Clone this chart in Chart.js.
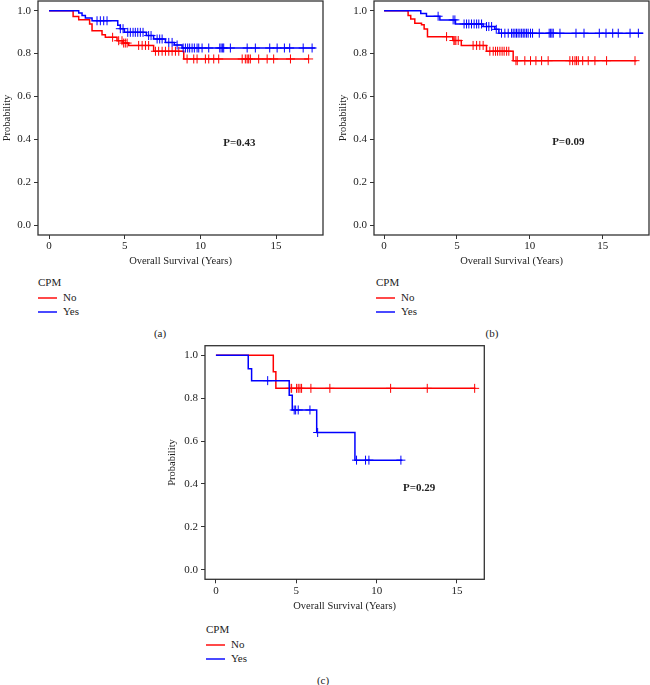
<!DOCTYPE html>
<html lang="en">
<head>
<meta charset="UTF-8">
<title>Overall survival by CPM</title>
<script src="https://cdn.jsdelivr.net/npm/chart.js"></script>
<style>
  body { margin: 0; background: #fff; font-family: "Liberation Serif", "DejaVu Serif", serif; color: #222; }
  #page { position: relative; width: 650px; height: 685px; overflow: hidden; }
  canvas { position: absolute; }
  .legend { position: absolute; font-size: 11px; line-height: 14.5px; }
  .legend .row { position: relative; padding-left: 25px; }
  .legend .row b { position: absolute; left: 0; top: 7px; width: 19px; height: 2px; }
  .cap { position: absolute; font-size: 11px; transform: translate(-50%, -50%); white-space: nowrap; }
</style>
</head>
<body>
<div id="page">
  <canvas id="cA" width="330" height="270" style="left:0;top:0"></canvas>
  <canvas id="cB" width="320" height="270" style="left:330px;top:0"></canvas>
  <canvas id="cC" width="330" height="275" style="left:160px;top:340px"></canvas>

  <div class="legend" style="left:38px;top:275px">
    <div>CPM</div>
    <div class="row"><b style="background:#ff4a4a"></b>No</div>
    <div class="row"><b style="background:#4a4aff"></b>Yes</div>
  </div>
  <div class="legend" style="left:376px;top:275px">
    <div>CPM</div>
    <div class="row"><b style="background:#ff4a4a"></b>No</div>
    <div class="row"><b style="background:#4a4aff"></b>Yes</div>
  </div>
  <div class="legend" style="left:206px;top:622px">
    <div>CPM</div>
    <div class="row"><b style="background:#ff4a4a"></b>No</div>
    <div class="row"><b style="background:#4a4aff"></b>Yes</div>
  </div>

  <div class="cap" style="left:160px;top:333px">(a)</div>
  <div class="cap" style="left:492px;top:333px">(b)</div>
  <div class="cap" style="left:323px;top:680px">(c)</div>
</div>

<script>
// axis ticks
const xTicks = [0, 5, 10, 15];
const yTicks = [0, 0.2, 0.4, 0.6, 0.8, 1.0];
const pLabels = ['P=0.43', 'P=0.09', 'P=0.29'];

// panel (a): event times and survival after each event, censoring times
const aNoTimes = [0, 1.59, 1.96, 2.68, 2.84, 3.5, 3.72, 4.49, 4.89, 5.26, 6.91, 8.9, 17.15];
const aNoSurv  = [1, 0.973, 0.958, 0.938, 0.907, 0.888, 0.876, 0.86, 0.849, 0.838, 0.811, 0.775, 0.775];
const aNoCens  = [4.2, 4.6, 4.82, 4.93, 5.04, 5.16, 5.92, 6.15, 6.37, 6.58, 7.03, 7.24, 7.47, 7.69, 7.91,
                  8.13, 8.35, 8.57, 9.12, 9.56, 9.78, 10.33, 10.55, 10.88, 11.21, 12.76, 12.97, 13.09,
                  13.19, 13.3, 13.85, 14.41, 14.84, 15.95, 17.15];
const aYesTimes = [0, 1.96, 2.18, 2.4, 2.84, 4.54, 4.71, 4.98, 6.43, 6.91, 7.69, 8.28, 8.79, 17.6];
const aYesSurv  = [1, 0.989, 0.978, 0.966, 0.953, 0.932, 0.916, 0.899, 0.884, 0.868, 0.852, 0.84, 0.826, 0.826];
const aYesCens  = [3.17, 3.39, 3.61, 3.83, 4.71, 4.89, 5.2, 5.37, 5.55, 5.7, 5.86, 6.03, 6.21, 6.58, 6.74,
                   7.14, 7.31, 7.47, 7.91, 8.13, 8.46, 8.86, 9.01, 9.16, 9.29, 9.45, 9.6, 9.78, 9.89, 10.11,
                   10.55, 11.28, 11.37, 11.47, 11.54, 11.98, 13.09, 13.63, 14.58, 15.07, 15.55, 15.9,
                   16.79, 17.38];

// panel (b)
const bNoTimes = [0, 1.65, 1.83, 2.11, 2.57, 2.75, 2.98, 4.72, 5.3, 7.03, 8.86, 17.33];
const bNoSurv  = [1, 0.977, 0.961, 0.941, 0.934, 0.915, 0.879, 0.861, 0.838, 0.811, 0.767, 0.767];
const bNoCens  = [4.29, 4.79, 4.86, 4.93, 5.09, 6.11, 6.35, 6.57, 6.8, 7.26, 7.49, 7.65, 7.79, 7.95, 8.1,
                  8.24, 8.41, 8.56, 9.05, 9.14, 9.66, 10.05, 10.42, 10.81, 11.26, 12.75, 12.94, 13.1,
                  13.21, 13.33, 13.63, 14.01, 14.47, 15.27, 17.22];
const bYesTimes = [0, 2.52, 2.91, 3.83, 4.9, 6.8, 7.6, 7.88, 17.79];
const bYesSurv  = [1, 0.987, 0.974, 0.957, 0.938, 0.926, 0.913, 0.895, 0.895];
const bYesCens  = [3.71, 4.74, 4.86, 5.49, 5.66, 5.82, 6.0, 6.18, 6.35, 6.5, 6.69, 7.03, 7.19, 7.38, 7.7,
                   8.06, 8.29, 8.52, 8.75, 8.86, 8.98, 9.09, 9.2, 9.32, 9.44, 9.55, 9.66, 9.78, 9.89,
                   10.05, 10.19, 10.65, 11.33, 11.43, 11.52, 11.61, 12.07, 13.17, 13.72, 14.77, 15.23,
                   15.69, 16.07, 16.88, 17.45];

// panel (c)
const cNoTimes = [0, 3.57, 3.73, 16.15];
const cNoSurv  = [1, 0.923, 0.846, 0.846];
const cNoCens  = [4.6, 4.71, 5.02, 5.12, 5.23, 5.33, 5.91, 7.09, 10.87, 13.15, 16.1];
const cYesTimes = [0, 2.01, 2.22, 4.56, 4.75, 6.27, 8.65, 11.6];
const cYesSurv  = [1, 0.938, 0.882, 0.814, 0.745, 0.64, 0.511, 0.511];
const cYesCens  = [3.22, 4.87, 4.96, 5.12, 5.85, 6.33, 8.75, 9.31, 9.52, 11.51];

const RED = '#ff0000', BLUE = '#0000ff';
const FONT = '"Liberation Serif", "DejaVu Serif", serif';

function survAt(times, surv, t) {
    let s = surv[0];
    for (let i = 0; i < times.length; i++) if (times[i] <= t) s = surv[i];
    return s;
}

function curve(times, surv) {
    return times.map((t, i) => ({ x: t, y: surv[i] }));
}

function marks(times, surv, cens) {
    return cens.map(t => ({ x: t, y: survAt(times, surv, t) }));
}

// frame round the plot area and the p-value text
const framePlugin = {
    id: 'frame',
    afterDraw(chart, args, opts) {
        const { ctx, chartArea: a } = chart;
        ctx.save();
        ctx.strokeStyle = '#333';
        ctx.lineWidth = 1.3;
        ctx.strokeRect(a.left, a.top, a.right - a.left, a.bottom - a.top);
        ctx.fillStyle = '#222';
        ctx.font = 'bold 11px ' + FONT;
        ctx.textAlign = 'center';
        ctx.textBaseline = 'middle';
        ctx.fillText(opts.text, chart.scales.x.getPixelForValue(opts.x), chart.scales.y.getPixelForValue(opts.y));
        ctx.restore();
    }
};

function makePanel(id, L, series) {
    const [noT, noS, noC, yesT, yesS, yesC] = series;
    new Chart(document.getElementById(id), {
        type: 'line',
        data: {
            datasets: [
                { data: curve(yesT, yesS), borderColor: BLUE, borderWidth: 1.5, stepped: true, pointRadius: 0 },
                { data: marks(yesT, yesS, yesC), showLine: false, pointStyle: 'cross', pointRadius: 4.5,
                  borderColor: BLUE, borderWidth: 1 },
                { data: curve(noT, noS), borderColor: RED, borderWidth: 1.5, stepped: true, pointRadius: 0 },
                { data: marks(noT, noS, noC), showLine: false, pointStyle: 'cross', pointRadius: 4.5,
                  borderColor: RED, borderWidth: 1 }
            ]
        },
        options: {
            responsive: false,
            animation: false,
            events: [],
            layout: { autoPadding: false, padding: { top: L.padT, right: L.padR, left: 0, bottom: 0 } },
            plugins: {
                legend: { display: false },
                tooltip: { enabled: false },
                frame: { text: L.pText, x: L.pX, y: L.pY }
            },
            scales: {
                x: {
                    type: 'linear', min: L.xMin, max: L.xMax,
                    afterBuildTicks: s => { s.ticks = xTicks.map(v => ({ value: v })); },
                    afterFit: s => { s.height = L.xH; s.paddingLeft = 0; s.paddingRight = 0; },
                    ticks: { autoSkip: false, maxRotation: 0, padding: 1, color: '#222',
                             font: { family: FONT, size: 11 } },
                    grid: { drawOnChartArea: false, tickLength: 4, color: '#333' },
                    border: { display: false },
                    title: { display: true, text: 'Overall Survival (Years)', color: '#222',
                             font: { family: FONT, size: 10.5 }, padding: { top: 0, bottom: 2 } }
                },
                y: {
                    type: 'linear', min: -0.045, max: 1.045,
                    afterBuildTicks: s => { s.ticks = yTicks.map(v => ({ value: v })); },
                    afterFit: s => { s.width = L.yW; s.paddingTop = 0; s.paddingBottom = 0; },
                    ticks: { autoSkip: false, padding: 3, color: '#222', callback: v => v.toFixed(1),
                             font: { family: FONT, size: 11 } },
                    grid: { drawOnChartArea: false, tickLength: 4, color: '#333' },
                    border: { display: false },
                    title: { display: true, text: 'Probability', color: '#222',
                             font: { family: FONT, size: 10.5 }, padding: { top: L.yTitlePad, bottom: 0 } }
                }
            }
        },
        plugins: [framePlugin]
    });
}

makePanel('cA', { padT: 1, padR: 7, yW: 38, xH: 35, yTitlePad: 0.7, xMin: -0.73, xMax: 18.1,
                  pText: pLabels[0], pX: 12.58, pY: 0.383 },
          [aNoTimes, aNoSurv, aNoCens, aYesTimes, aYesSurv, aYesCens]);
makePanel('cB', { padT: 1, padR: 1, yW: 44, xH: 35, yTitlePad: 6.7, xMin: -0.69, xMax: 18.18,
                  pText: pLabels[1], pX: 12.64, pY: 0.387 },
          [bNoTimes, bNoSurv, bNoCens, bYesTimes, bYesSurv, bYesCens]);
makePanel('cC', { padT: 5.7, padR: 5.7, yW: 45, xH: 35.7, yTitlePad: 6.4, xMin: -0.68, xMax: 16.7,
                  pText: pLabels[2], pX: 12.65, pY: 0.381 },
          [cNoTimes, cNoSurv, cNoCens, cYesTimes, cYesSurv, cYesCens]);
</script>
</body>
</html>
